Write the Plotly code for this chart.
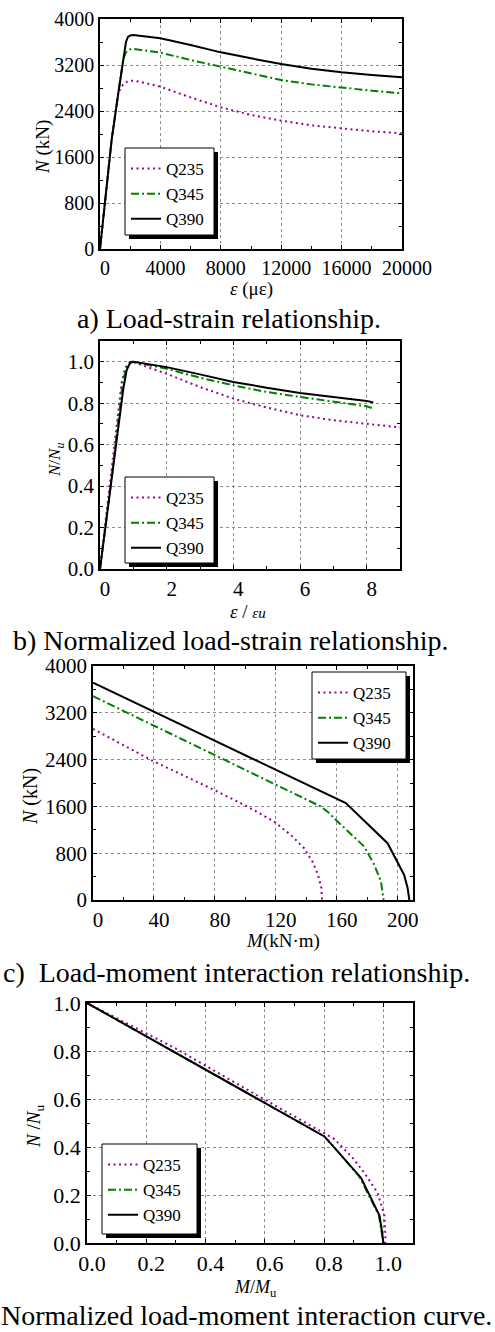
import plotly.graph_objects as go

W, H = 495, 1332
FONT = "Liberation Serif"
PURPLE = "#990099"
GREEN = "#008000"
BLACK = "#000000"

# ---------------- data ----------------
series_names = ["Q235", "Q345", "Q390"]

# a) Load-strain (strain in microstrain, N in kN)
a_q235_x = [0, 770, 1210, 1400, 1600, 1800, 2000, 2200, 2600, 3000, 4000, 6000, 8000, 10000, 12000, 14000, 16000, 18000, 20000]
a_q235_y = [0, 1896, 2710, 2820, 2880, 2912, 2925, 2927, 2910, 2885, 2823, 2637, 2464, 2331, 2232, 2151, 2093, 2046, 2012]
a_q345_x = [0, 770, 1200, 1540, 1700, 1850, 2000, 2200, 2600, 3000, 4000, 6000, 8000, 10000, 12000, 14000, 16000, 18000, 20000]
a_q345_y = [0, 1896, 2690, 3300, 3410, 3455, 3474, 3480, 3465, 3448, 3414, 3287, 3170, 3054, 2939, 2863, 2805, 2753, 2707]
a_q390_x = [0, 770, 1200, 1500, 1720, 1850, 2000, 2200, 2600, 3000, 4000, 6000, 8000, 10000, 12000, 14000, 16000, 18000, 20000]
a_q390_y = [0, 1896, 2690, 3200, 3600, 3690, 3715, 3722, 3712, 3700, 3664, 3548, 3420, 3316, 3217, 3136, 3072, 3026, 2985]

# b) Normalized load-strain
b_q235_x = [0, 0.3, 0.5, 0.65, 0.75, 0.9, 1.0, 2, 3, 4, 5, 6, 7, 8, 9]
b_q235_y = [0, 0.42, 0.68, 0.9, 0.97, 1.0, 0.998, 0.942, 0.878, 0.822, 0.779, 0.742, 0.718, 0.699, 0.683]
b_q345_x = [0, 0.35, 0.68, 0.8, 0.95, 1.0, 2, 3, 4, 5, 6, 7, 8, 8.2]
b_q345_y = [0, 0.44, 0.9, 0.975, 1.0, 1.0, 0.966, 0.923, 0.886, 0.854, 0.83, 0.806, 0.785, 0.774]
b_q390_x = [0, 0.35, 0.7, 0.8, 0.9, 1.0, 2, 3, 4, 5, 6, 7, 8, 8.2]
b_q390_y = [0, 0.43, 0.87, 0.96, 0.995, 1.0, 0.974, 0.939, 0.902, 0.875, 0.849, 0.83, 0.811, 0.803]

# c) Load-moment interaction (M in kN·m, N in kN)
c_q235_x = [0, 39.7, 79.2, 101.2, 118.7, 129.7, 138.5, 144, 147.7, 149.9, 150.3]
c_q235_y = [2926, 2371, 1885, 1600, 1343, 1114, 886, 657, 428, 200, 0]
c_q345_x = [0, 149.4, 154.9, 159.3, 178, 184.6, 189, 190.7]
c_q345_y = [3485, 1600, 1486, 1371, 914, 600, 314, 0]
c_q390_x = [0, 165.9, 193.3, 204.2, 206.5, 207.6]
c_q390_y = [3714, 1657, 971, 428, 200, 0]

# d) Normalized load-moment interaction
d_q235_x = [0, 0.3, 0.6, 0.79, 0.835, 0.897, 0.936, 0.981, 1.003, 1.007, 1.006]
d_q235_y = [1.0, 0.81, 0.597, 0.465, 0.433, 0.354, 0.292, 0.208, 0.118, 0.028, 0]
d_q345_x = [0, 0.80, 0.83, 0.92, 0.985, 1.0]
d_q345_y = [1.0, 0.445, 0.405, 0.275, 0.115, 0]
d_q390_x = [0, 0.801, 0.925, 0.987, 0.995, 1.0]
d_q390_y = [1.0, 0.444, 0.271, 0.114, 0.05, 0]

captions = ["a) Load-strain relationship.",
            "b) Normalized load-strain relationship.",
            "c)&nbsp; Load-moment interaction relationship.",
            "Normalized load-moment interaction curve."]

# ---------------- layout helpers ----------------
def fx(px):
    return px / W

def fy(py):
    return 1 - py / H

# plot boxes in pixels: (left, right, top, bottom)
boxes = [(100, 402, 19, 249), (100, 400, 341, 569), (93, 413, 666, 900), (87, 413, 1003, 1243)]

styles = {
    "Q235": dict(color=PURPLE, width=2, dash="2px,3.5px"),
    "Q345": dict(color=GREEN, width=2, dash="8px,3px,2px,3px"),
    "Q390": dict(color=BLACK, width=2),
}

fig = go.Figure()
panel_data = [
    [(a_q235_x, a_q235_y), (a_q345_x, a_q345_y), (a_q390_x, a_q390_y)],
    [(b_q235_x, b_q235_y), (b_q345_x, b_q345_y), (b_q390_x, b_q390_y)],
    [(c_q235_x, c_q235_y), (c_q345_x, c_q345_y), (c_q390_x, c_q390_y)],
    [(d_q235_x, d_q235_y), (d_q345_x, d_q345_y), (d_q390_x, d_q390_y)],
]
legend_ids = ["legend", "legend2", "legend3", "legend4"]
for i, pdata in enumerate(panel_data):
    xa = "x" if i == 0 else f"x{i+1}"
    ya = "y" if i == 0 else f"y{i+1}"
    for name, (xs, ys) in zip(series_names, pdata):
        fig.add_trace(go.Scatter(x=xs, y=ys, mode="lines", name=name,
                                 line=styles[name], xaxis=xa, yaxis=ya,
                                 legend=legend_ids[i], showlegend=True))

axis_specs = [
    # x range, x dtick, x minor, x fmt, y range, y dtick, y minor, y fmt, tick font
    ([0, 20000], 4000, 2000, "d", [0, 4000], 800, 400, "d", 20),
    ([0, 9], 2, 1, "d", [0, 1.1], 0.2, 0.1, ".1f", 21),
    ([0, 210], 40, 20, "d", [0, 4000], 800, 400, "d", 21),
    ([0, 1.1], 0.2, 0.1, ".1f", [0, 1.0], 0.2, 0.1, ".1f", 22),
]

common = dict(showline=True, linecolor="black", linewidth=1.5, mirror="allticks",
              ticks="inside", ticklen=4, tickwidth=1.2, tickcolor="black",
              showgrid=True, gridcolor="#8c8c8c", gridwidth=1, griddash="3px,3px",
              zeroline=False, automargin=False)

layout = dict(width=W, height=H, margin=dict(l=0, r=0, t=0, b=0, autoexpand=False),
              paper_bgcolor="white", plot_bgcolor="white",
              font=dict(family=FONT, color="black"))

for i, (box, spec) in enumerate(zip(boxes, axis_specs)):
    l, r, t, b = box
    xr, xd, xm, xf, yr, yd, ym, yf, tfs = spec
    xk = "xaxis" if i == 0 else f"xaxis{i+1}"
    yk = "yaxis" if i == 0 else f"yaxis{i+1}"
    xa = "x" if i == 0 else f"x{i+1}"
    ya = "y" if i == 0 else f"y{i+1}"
    layout[xk] = dict(common, domain=[fx(l), fx(r)], range=xr, dtick=xd, tick0=0,
                      tickformat=xf, anchor=ya, ticklabelshift=5,
                      tickfont=dict(family=FONT, size=tfs, color="black"),
                      minor=dict(ticks="inside", ticklen=3, tickwidth=1, tickcolor="black",
                                 dtick=xm, tick0=0, showgrid=False))
    layout[yk] = dict(common, domain=[fy(b), fy(t)], range=yr, dtick=yd, tick0=0,
                      tickformat=yf, anchor=xa,
                      tickfont=dict(family=FONT, size=tfs, color="black"),
                      minor=dict(ticks="inside", ticklen=3, tickwidth=1, tickcolor="black",
                                 dtick=ym, tick0=0, showgrid=False))

# legend boxes (pixels): left, right, top, bottom
legend_boxes = [(125, 214, 148, 235), (125, 214, 477, 563), (312, 406, 672, 759), (102, 197, 1144, 1234)]
shapes = []
for (l, r, t, b) in legend_boxes:
    shapes.append(dict(type="rect", xref="paper", yref="paper", layer="above",
                       x0=fx(l + 4), x1=fx(r + 4), y0=fy(b + 4), y1=fy(t + 4),
                       fillcolor="black", line=dict(width=0)))
    shapes.append(dict(type="rect", xref="paper", yref="paper", layer="above",
                       x0=fx(l), x1=fx(r), y0=fy(b), y1=fy(t),
                       fillcolor="white", line=dict(color="black", width=1)))
layout["shapes"] = shapes

for lid, (l, r, t, b) in zip(legend_ids, legend_boxes):
    layout[lid] = dict(x=fx(l + 1), y=fy(t + 3), xanchor="left", yanchor="top",
                       bgcolor="rgba(0,0,0,0)", borderwidth=0,
                       font=dict(family=FONT, size=17, color="black"),
                       tracegroupgap=0)

annotations = []
def ann(text, px, py, size, angle=0):
    annotations.append(dict(text=text, x=fx(px), y=fy(py), xref="paper", yref="paper",
                            showarrow=False, xanchor="center", yanchor="middle",
                            textangle=angle, font=dict(family=FONT, size=size, color="black")))

# axis titles
ann("<i>ε</i> (με)", 251, 289, 19)
ann("<i>N</i> (kN)", 43, 147, 19, angle=-90)
ann("<i>ε</i> / <i><span style='font-size:15px'>εu</span></i>", 248, 611, 19)
ann("<i>N</i>/<i>N<sub>u</sub></i>", 56, 460, 17, angle=-90)
ann("<i>M</i>(kN·m)", 283, 941, 19)
ann("<i>N</i> (kN)", 30, 797, 20, angle=-90)
ann("<i>M</i>/<i>M</i><sub>u</sub>", 255, 1288, 18)
ann("<i>N</i> /<i>N</i><sub>u</sub>", 35, 1127, 19, angle=-90)

# captions
ann(captions[0], 229, 319, 28)
ann(captions[1], 230, 640, 28)
ann(captions[2], 236, 972, 28)
ann(captions[3], 246, 1315, 28)

layout["annotations"] = annotations
fig.update_layout(**layout)
fig.write_html("out.html", config={"displayModeBar": False},
               post_script="document.body.style.margin='0';document.body.style.padding='0';")
